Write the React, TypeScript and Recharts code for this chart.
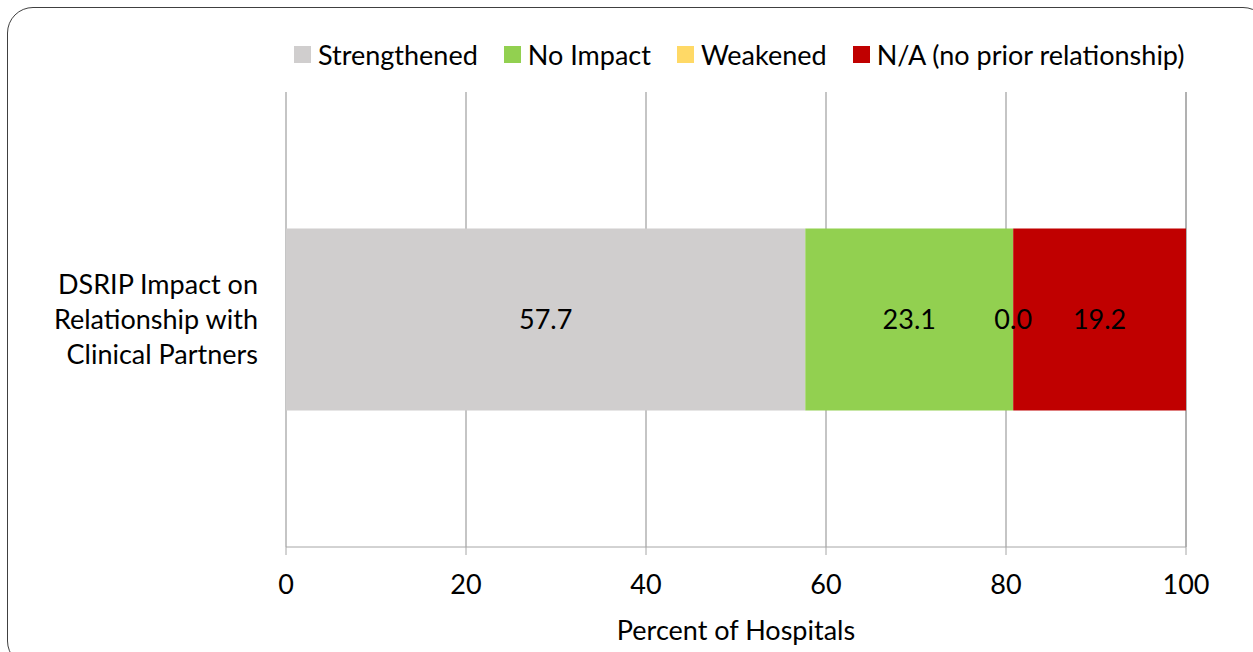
import React from "react";
import {
  BarChart,
  Bar,
  XAxis,
  YAxis,
  CartesianGrid,
  Legend,
  LabelList,
} from "recharts";

// values
const categories = ["DSRIP Impact on Relationship with Clinical Partners"];
const strengthened = [57.7];
const noImpact = [23.1];
const weakened = [0.0];
const notApplicable = [19.2];
const xTicks = [0, 20, 40, 60, 80, 100];

const seriesDefs = [
  { key: "strengthened", name: "Strengthened", color: "#D0CECE" },
  { key: "noImpact", name: "No Impact", color: "#92D050" },
  { key: "weakened", name: "Weakened", color: "#FFD966" },
  { key: "notApplicable", name: "N/A (no prior relationship)", color: "#C00000" },
];

const data = categories.map((c, i) => ({
  category: c,
  strengthened: strengthened[i],
  noImpact: noImpact[i],
  weakened: weakened[i],
  notApplicable: notApplicable[i],
}));

const FONT = "Lato, 'Open Sans', sans-serif";
const FS = 27;

// greedy word wrap, the reference breaks the label into three lines
function wrap(label: string, maxChars: number) {
  const lines: string[] = [];
  let cur = "";
  label.split(" ").forEach((w) => {
    const next = cur ? cur + " " + w : w;
    if (next.length > maxChars && cur) {
      lines.push(cur);
      cur = w;
    } else {
      cur = next;
    }
  });
  if (cur) lines.push(cur);
  return lines;
}

function LegendContent() {
  return (
    <div style={{ display: "flex", alignItems: "center", fontFamily: FONT, fontSize: FS, color: "#000" }}>
      {seriesDefs.map((s) => (
        <div key={s.key} style={{ display: "flex", alignItems: "center", marginRight: 26 }}>
          <span style={{ width: 17, height: 17, background: s.color, display: "inline-block", marginRight: 7 }} />
          <span>{s.name}</span>
        </div>
      ))}
    </div>
  );
}

function CategoryTick(props: any) {
  const { x, y, payload } = props;
  const lines = wrap(String(payload.value), 17);
  const lh = 35;
  const y0 = y - ((lines.length - 1) * lh) / 2;
  return (
    <text x={x - 20} y={y0} textAnchor="end" fontFamily={FONT} fontSize={FS} fill="#000">
      {lines.map((l, i) => (
        <tspan key={i} x={x - 20} y={y0 + i * lh} dy="0.35em">
          {l}
        </tspan>
      ))}
    </text>
  );
}

export default function App() {
  return (
    <div style={{ position: "absolute", left: 0, top: 0, width: 1253, height: 652, overflow: "hidden", background: "#fff" }}>
      <div
        style={{
          position: "absolute",
          left: 7,
          top: 7,
          width: 1262,
          height: 660,
          border: "1.5px solid #404040",
          borderRadius: 26,
          boxSizing: "border-box",
        }}
      />
      <BarChart
        width={1253}
        height={652}
        data={data}
        layout="vertical"
        margin={{ top: 92, right: 67, bottom: 0, left: 0 }}
        barCategoryGap="30%"
        style={{ position: "absolute", left: 0, top: 0 }}
      >
        <CartesianGrid vertical horizontal={false} stroke="#A6A6A6" strokeWidth={1.3} />
        <XAxis
          type="number"
          domain={[0, 100]}
          ticks={xTicks}
          height={105}
          stroke="#A6A6A6"
          tickSize={8}
          tickMargin={20}
          tick={{ fill: "#000", fontFamily: FONT, fontSize: FS }}
          label={{
            value: "Percent of Hospitals",
            position: "insideBottom",
            offset: 12,
            fill: "#000",
            fontFamily: FONT,
            fontSize: FS,
          }}
        />
        <YAxis
          type="category"
          dataKey="category"
          width={286}
          axisLine={false}
          tickLine={false}
          tick={<CategoryTick />}
        />
        <Legend
          layout="horizontal"
          verticalAlign="middle"
          align="center"
          wrapperStyle={{ top: 38, left: 294, width: 950 }}
          content={<LegendContent />}
        />
        {seriesDefs.map((s) => (
          <Bar
            key={s.key}
            dataKey={s.key}
            name={s.name}
            stackId="a"
            fill={s.color}
            minPointSize={0.01}
            isAnimationActive={false}
          >
            <LabelList
              dataKey={s.key}
              position="center"
              formatter={(v: any) => Number(v).toFixed(1)}
              fill="#000"
              fontFamily={FONT}
              fontSize={FS}
            />
          </Bar>
        ))}
      </BarChart>
    </div>
  );
}
